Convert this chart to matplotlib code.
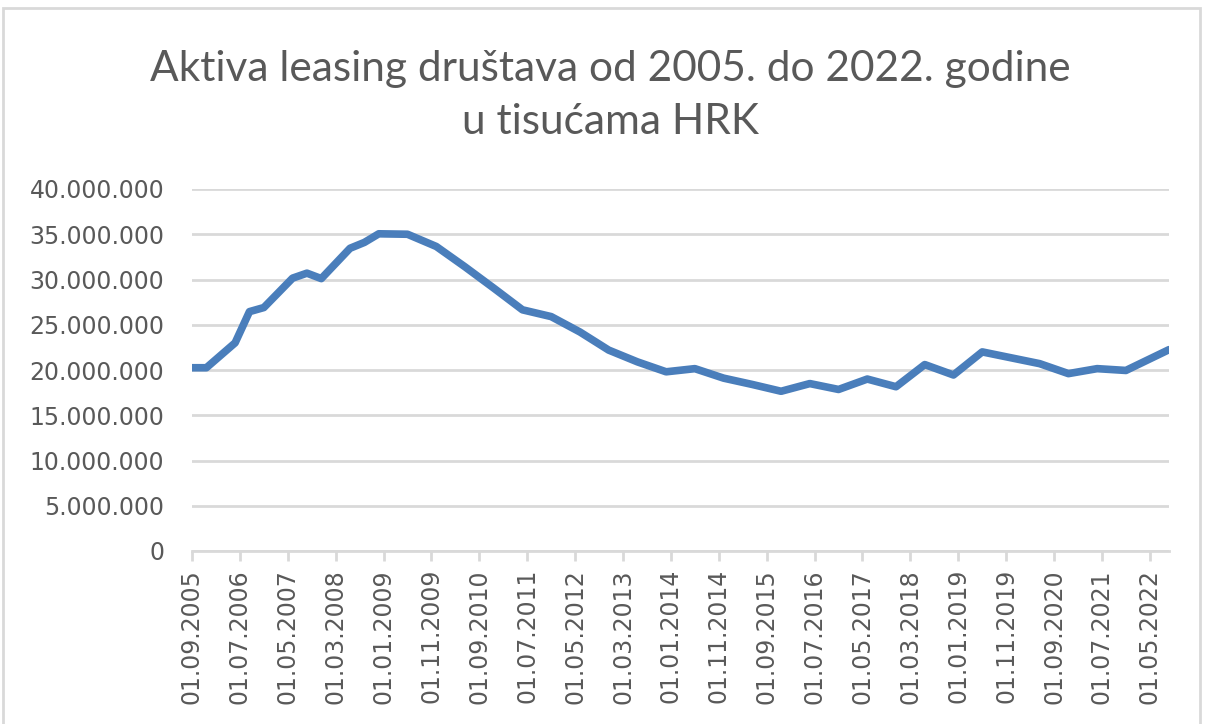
import matplotlib
matplotlib.use('Agg')
import matplotlib.pyplot as plt
from matplotlib.ticker import FuncFormatter, MultipleLocator
from matplotlib.patches import Rectangle

# observation dates (year, month) and leasing assets in thousands HRK
dates = [(2005, 9), (2005, 12), (2006, 6), (2006, 9), (2006, 12), (2007, 6),
         (2007, 9), (2007, 12), (2008, 6), (2008, 9), (2008, 12), (2009, 6),
         (2009, 12), (2010, 6), (2010, 12), (2011, 6), (2011, 12), (2012, 6),
         (2012, 12), (2013, 6), (2013, 12), (2014, 6), (2014, 12), (2015, 6),
         (2015, 12), (2016, 6), (2016, 12), (2017, 6), (2017, 12), (2018, 6),
         (2018, 12), (2019, 6), (2019, 12), (2020, 6), (2020, 12), (2021, 6),
         (2021, 12), (2022, 9)]
aktiva = [20250000, 20250000, 23000000, 26450000, 26900000, 30150000,
          30700000, 30100000, 33450000, 34100000, 35050000, 35000000,
          33650000, 31400000, 29050000, 26650000, 25900000, 24200000,
          22200000, 20900000, 19800000, 20150000, 19100000, 18400000,
          17650000, 18500000, 17850000, 19000000, 18150000, 20600000,
          19450000, 22000000, 21350000, 20700000, 19600000, 20150000,
          19950000, 22250000]
x_labels = ['01.09.2005', '01.07.2006', '01.05.2007', '01.03.2008', '01.01.2009',
            '01.11.2009', '01.09.2010', '01.07.2011', '01.05.2012', '01.03.2013',
            '01.01.2014', '01.11.2014', '01.09.2015', '01.07.2016', '01.05.2017',
            '01.03.2018', '01.01.2019', '01.11.2019', '01.09.2020', '01.07.2021',
            '01.05.2022']

# month offsets from the first date (excel date axis, base unit = month)
y0, m0 = dates[0]
months = [(y - y0) * 12 + (m - m0) for y, m in dates]

grey = '#595959'
fig = plt.figure(figsize=(12.06, 7.24), dpi=100)
fig.patches.append(Rectangle((3 / 1206, -0.1), 1197 / 1206, 1.1 - 8 / 724,
                             transform=fig.transFigure, fill=False,
                             edgecolor='#d9d9d9', linewidth=2))
ax = fig.add_axes([192 / 1206, 1 - 551 / 724, (1169 - 192) / 1206, (551 - 189) / 724])

ax.plot(months, aktiva, color='#4a7ebb', linewidth=5.5, solid_capstyle='round',
        solid_joinstyle='round', zorder=3)

ax.set_xlim(0, 204)
ax.set_ylim(0, 40000000)
ax.yaxis.set_major_locator(MultipleLocator(5000000))
ax.yaxis.set_major_formatter(FuncFormatter(lambda v, p: f'{int(v):,}'.replace(',', '.')))
ax.set_xticks(range(0, 201, 10))
ax.set_xticklabels(x_labels, rotation=90)
ax.grid(axis='y', color='#d9d9d9', linewidth=2)
ax.set_axisbelow(True)
for s in ['top', 'right', 'left']:
    ax.spines[s].set_visible(False)
ax.spines['bottom'].set_color('#d9d9d9')
ax.spines['bottom'].set_linewidth(2)
ax.tick_params(axis='y', length=0, pad=20, labelsize=17, labelcolor=grey)
ax.tick_params(axis='x', length=7, width=2, color='#d9d9d9', pad=6,
               labelsize=17, labelcolor=grey)
for lab in ax.get_xticklabels() + ax.get_yticklabels():
    lab.set_fontfamily('DejaVu Sans')

fig.text(0.506, 0.868, 'Aktiva leasing društava od 2005. do 2022. godine\nu tisućama HRK',
         ha='center', va='center', fontsize=30.5, color=grey, family='Lato',
         linespacing=1.5)

fig.savefig('out.png', dpi=100)
plt.close()
